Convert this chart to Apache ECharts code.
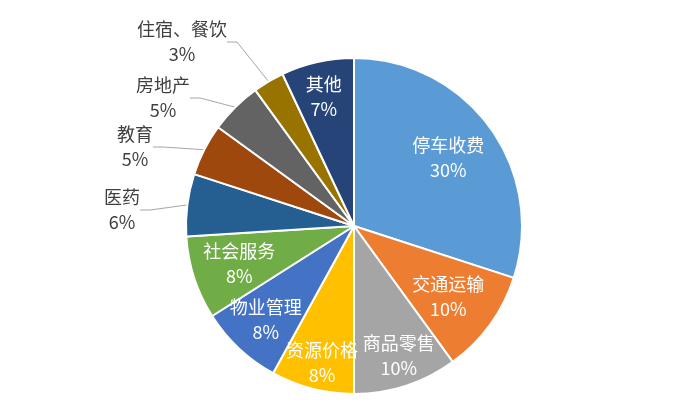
<!DOCTYPE html>
<html>
<head>
<meta charset="utf-8">
<script src="https://cdn.jsdelivr.net/npm/echarts@6/dist/echarts.min.js"></script>
<style>html,body{margin:0;padding:0;background:#fff;}#c{width:700px;height:420px;}</style>
</head>
<body>
<div id="c"></div>
<script>
const categories = ['停车收费','交通运输','商品零售','资源价格','物业管理','社会服务','医药','教育','房地产','住宿、餐饮','其他'];
const values = [30, 10, 10, 8, 8, 8, 6, 5, 5, 3, 7];
const colors = ['#5B9BD5','#ED7D31','#A5A5A5','#FFC000','#4472C4','#70AD47','#255E91','#9E480E','#636363','#997300','#264478'];
const outsideNames = ['医药','教育','房地产','住宿、餐饮'];
// label block centres for the outside labels (layout, not data)
const outsideLabelPos = {'医药':[122,210],'教育':[135,147],'房地产':[163,98],'住宿、餐饮':[182,42]};
// small nudges of inside labels (layout, not data)
const insideNudge = {'停车收费':[-10,7],'交通运输':[-10,-5],'商品零售':[5,7],'资源价格':[0,12],'社会服务':[8,-2],'其他':[-2,-3]};

const chart = echarts.init(document.getElementById('c'));
const FONT = '"Noto Sans CJK SC", "Noto Sans", sans-serif';
const center = [354, 226];
const R = 168;

const baseData = categories.map((n, i) => ({
  name: n, value: values[i],
  itemStyle: {color: colors[i]},
  label: {show: outsideNames.indexOf(n) >= 0},
  labelLine: {show: outsideNames.indexOf(n) >= 0}
}));
const labelData = categories.map((n, i) => ({
  name: n, value: values[i],
  label: {show: outsideNames.indexOf(n) < 0}
}));

chart.setOption({
  backgroundColor: '#fff',
  animation: false,
  series: [
    {
      type: 'pie',
      center: center,
      radius: [0, R],
      startAngle: 90,
      clockwise: true,
      avoidLabelOverlap: false,
      itemStyle: {borderColor: '#fff', borderWidth: 2},
      label: {
        position: 'outside',
        formatter: p => p.name + '\n' + p.value + '%',
        color: '#404040',
        fontFamily: FONT,
        fontSize: 18,
        lineHeight: 25,
        align: 'center'
      },
      labelLine: {lineStyle: {color: '#A6A6A6', width: 1}, length: 10, length2: 10},
      labelLayout: function (params) {
        const n = categories[params.dataIndex];
        const pos = outsideLabelPos[n];
        if (!pos) return {hideOverlap: false};
        return {x: pos[0], y: pos[1], align: 'center', verticalAlign: 'middle', hideOverlap: false};
      },
      emphasis: {disabled: true},
      data: baseData
    },
    {
      type: 'pie',
      center: center,
      radius: [0, 252],
      startAngle: 90,
      clockwise: true,
      silent: true,
      avoidLabelOverlap: false,
      z: 5,
      itemStyle: {color: 'rgba(0,0,0,0)', borderWidth: 0},
      label: {
        position: 'inside',
        formatter: p => p.name + '\n' + p.value + '%',
        color: '#fff',
        fontFamily: FONT,
        fontSize: 18,
        lineHeight: 25,
        align: 'center'
      },
      labelLayout: function (params) {
        const d = insideNudge[categories[params.dataIndex]] || [0, 0];
        return {dx: d[0], dy: d[1], hideOverlap: false};
      },
      labelLine: {show: false},
      emphasis: {disabled: true},
      data: labelData
    }
  ]
});
</script>
</body>
</html>
